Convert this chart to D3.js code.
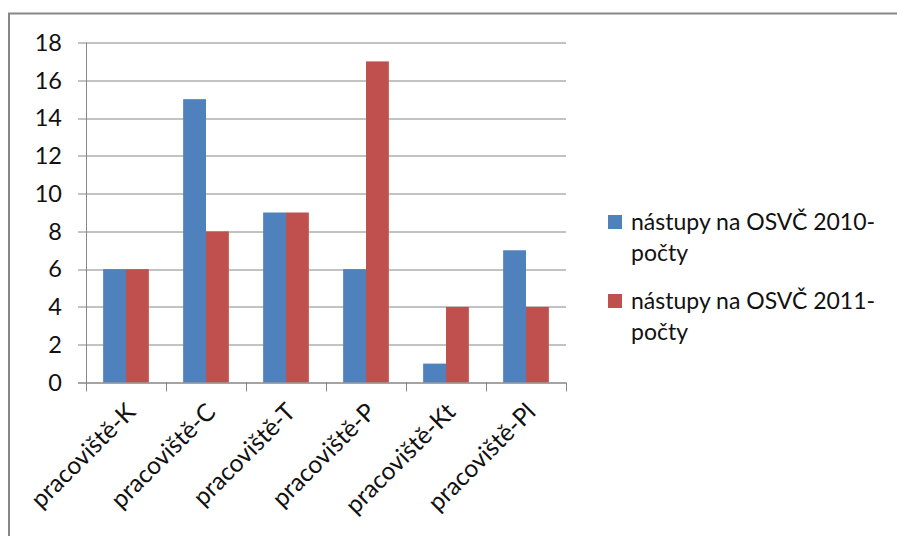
<!DOCTYPE html>
<html>
<head>
<meta charset="utf-8">
<script src="https://cdn.jsdelivr.net/npm/d3@7"></script>
<style>
  html, body { margin: 0; padding: 0; background: #fff; }
  svg { display: block; font-family: Lato, "Open Sans", sans-serif; }
</style>
</head>
<body>
<svg id="chart" width="897" height="536"></svg>
<script>
// Workplace categories and counts of new self-employed (OSVČ) per year
const categories = ["pracoviště-K", "pracoviště-C", "pracoviště-T", "pracoviště-P", "pracoviště-Kt", "pracoviště-Pl"];
const series2010 = [6, 15, 9, 6, 1, 7];
const series2011 = [6, 8, 9, 17, 4, 4];
const seriesNames = ["nástupy na OSVČ 2010-počty", "nástupy na OSVČ 2011-počty"];
const legendLines = [["nástupy na OSVČ 2010-", "počty"], ["nástupy na OSVČ 2011-", "počty"]];
const yTicks = [0, 2, 4, 6, 8, 10, 12, 14, 16, 18];
const colors = ["#4f81bd", "#c0504d"];

const svg = d3.select("#chart");
const margin = { left: 86, right: 331, top: 42.5, bottom: 153.5 };
const W = 897, H = 536;
const plotW = W - margin.left - margin.right;
const plotH = H - margin.top - margin.bottom;

// Outer chart border (top and left edges visible)
svg.append("path")
  .attr("d", `M9,536 V13.5 H897`)
  .attr("fill", "none")
  .attr("stroke", "#878787")
  .attr("stroke-width", 2);

const g = svg.append("g").attr("transform", `translate(${margin.left},${margin.top})`);

const x = d3.scaleBand().domain(categories).range([0, plotW]).paddingInner(0).paddingOuter(0);
const y = d3.scaleLinear().domain([0, 18]).range([plotH, 0]);
// Two bars per group, gap of 1.5 bar widths shared between groups
const barW = x.bandwidth() / 3.5;
const xs = d3.scaleBand().domain([0, 1]).range([barW * 0.75, barW * 2.75]).padding(0);

// Horizontal gridlines with left tick marks
g.append("g")
  .selectAll("line")
  .data(yTicks)
  .join("line")
  .attr("x1", -8)
  .attr("x2", plotW)
  .attr("y1", d => Math.round(y(d)) + 0.5)
  .attr("y2", d => Math.round(y(d)) + 0.5)
  .attr("stroke", "#868686")
  .attr("stroke-width", 1);

// Y axis labels
g.append("g")
  .selectAll("text")
  .data(yTicks)
  .join("text")
  .attr("x", -24)
  .attr("y", d => y(d))
  .attr("dy", "0.35em")
  .attr("text-anchor", "end")
  .attr("font-size", 23.5)
  .attr("fill", "#111")
  .text(d => d);

// Bars
const rows = categories.map((c, i) => ({ cat: c, vals: [series2010[i], series2011[i]] }));
const groups = g.append("g").selectAll("g")
  .data(rows)
  .join("g")
  .attr("transform", d => `translate(${x(d.cat)},0)`);
groups.selectAll("rect")
  .data(d => d.vals.map((v, k) => ({ v, k })))
  .join("rect")
  .attr("x", d => xs(d.k))
  .attr("width", xs.bandwidth())
  .attr("y", d => y(d.v))
  .attr("height", d => y(0) - y(d.v))
  .attr("fill", d => colors[d.k]);

// Y axis line
g.append("line")
  .attr("x1", 0.5).attr("x2", 0.5)
  .attr("y1", 0).attr("y2", plotH)
  .attr("stroke", "#868686");

// X axis line and category ticks
g.append("line")
  .attr("x1", -8).attr("x2", plotW)
  .attr("y1", Math.round(plotH) + 0.5).attr("y2", Math.round(plotH) + 0.5)
  .attr("stroke", "#868686");
const tickPos = categories.map(c => x(c)).concat([plotW]);
g.append("g").selectAll("line")
  .data(tickPos)
  .join("line")
  .attr("x1", d => Math.round(d) + 0.5)
  .attr("x2", d => Math.round(d) + 0.5)
  .attr("y1", plotH)
  .attr("y2", plotH + 9)
  .attr("stroke", "#868686");

// Rotated category labels
g.append("g").selectAll("text")
  .data(categories)
  .join("text")
  .attr("transform", d => `translate(${x(d) + x.bandwidth() / 2 + 5},${plotH + 25}) rotate(-45)`)
  .attr("text-anchor", "end")
  .attr("dy", "0.35em")
  .attr("font-size", 24.5)
  .attr("fill", "#111")
  .text(d => d);

// Legend
const legend = svg.append("g").attr("transform", "translate(608,0)");
const legendY = [222, 301];
seriesNames.forEach((name, i) => {
  const lg = legend.append("g").attr("transform", `translate(0,${legendY[i]})`);
  lg.append("rect")
    .attr("x", 0).attr("y", -7)
    .attr("width", 14).attr("height", 14)
    .attr("fill", colors[i]);
  const t = lg.append("text")
    .attr("x", 23)
    .attr("y", 0)
    .attr("font-size", 23)
    .attr("fill", "#111");
  legendLines[i].forEach((ln, j) => {
    t.append("tspan")
      .attr("x", 23)
      .attr("dy", j === 0 ? "0.35em" : 31)
      .text(ln);
  });
});
</script>
</body>
</html>
